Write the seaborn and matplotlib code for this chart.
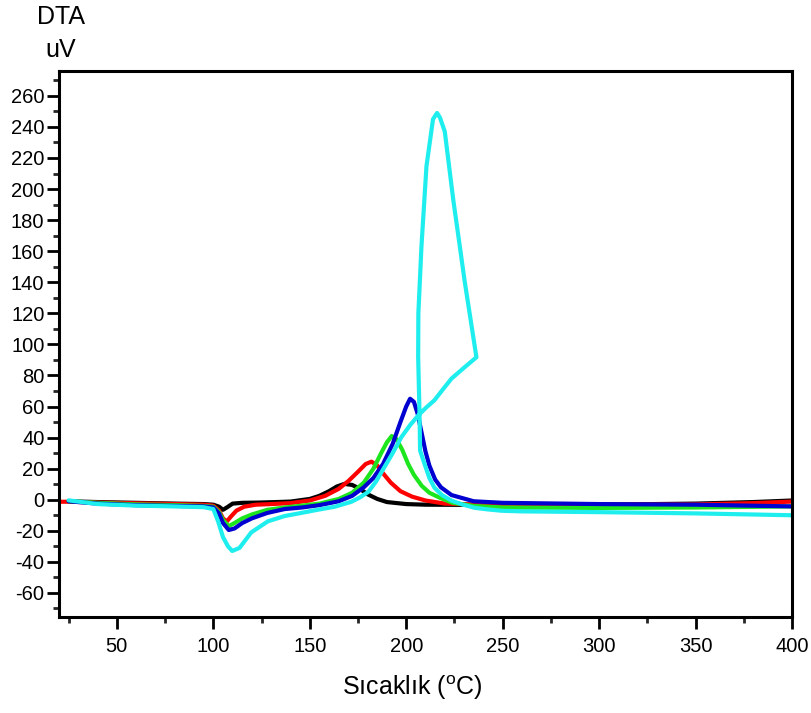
import numpy as np
import pandas as pd
import matplotlib
matplotlib.use("Agg")
import matplotlib.pyplot as plt
import seaborn as sns

# ---- data ----
black_x = [25, 40, 60, 80, 95, 100, 103, 105, 107, 110, 115, 125, 140, 150, 155, 160, 164, 168, 172, 176, 180, 185, 190, 200, 210, 230, 250, 300, 350, 380, 400]
black_y = [-1.0, -1.5, -2.0, -2.5, -2.8, -3.2, -4.5, -6.5, -5.0, -2.5, -2.0, -1.8, -1.2, 0.5, 2.5, 5.5, 8.5, 10.2, 9.5, 7.0, 3.5, 0.5, -1.5, -2.8, -3.2, -3.3, -3.3, -3.2, -2.5, -1.5, -0.5]

red_x = [20, 25, 40, 60, 80, 95, 100, 103, 105, 107, 109, 112, 116, 122, 130, 140, 150, 158, 165, 170, 175, 179, 182, 185, 188, 192, 197, 203, 210, 220, 235, 250, 300, 350, 380, 400]
red_y = [-1.3, -1.3, -1.8, -2.3, -2.8, -3.2, -3.8, -7.0, -12.0, -14.0, -11.0, -7.0, -4.5, -3.2, -2.8, -2.2, -0.5, 2.5, 7.0, 12.0, 18.0, 23.0, 24.5, 22.0, 17.0, 11.0, 5.5, 2.0, -0.5, -2.5, -3.0, -3.2, -3.2, -3.0, -2.2, -1.2]

green_x = [25, 40, 60, 80, 95, 100, 103, 105, 108, 111, 115, 120, 128, 137, 146, 155, 165, 172, 178, 183, 187, 190, 192.5, 195, 198, 201, 204, 208, 212, 217, 224, 235, 250, 300, 350, 400]
green_y = [-1.0, -2.0, -3.0, -3.5, -4.0, -4.5, -8.0, -13.0, -17.0, -15.0, -12.0, -9.5, -6.5, -5.0, -3.8, -2.5, 0.5, 4.5, 11.0, 20.0, 30.0, 37.0, 41.0, 39.0, 32.0, 23.0, 16.0, 9.0, 4.5, 1.5, -2.0, -4.0, -5.0, -5.3, -5.0, -4.3]

blue_x = [25, 40, 60, 80, 95, 100, 103, 105, 108, 111, 115, 120, 128, 137, 146, 155, 165, 172, 178, 183, 188, 193, 197, 200, 202, 204, 206, 208, 210, 212, 215, 218, 223.5, 235, 250, 300, 350, 400]
blue_y = [-1.0, -2.5, -3.5, -4.0, -4.3, -5.0, -9.0, -15.0, -19.5, -18.5, -15.0, -12.0, -8.5, -6.0, -5.0, -3.5, -1.0, 2.5, 8.0, 14.0, 23.0, 36.0, 50.0, 60.0, 65.0, 63.0, 55.0, 43.0, 31.0, 22.0, 13.0, 8.0, 3.0, -1.0, -2.0, -2.8, -3.2, -4.3]

cyan_x = [25, 40, 60, 80, 95, 100, 102.5, 105, 107.6, 109.8, 113.6, 119.7, 128.3, 137, 145.6, 154.4, 163, 171.6, 176, 180.4, 184.5, 188.7, 193, 197.5, 202, 206.3, 210.5, 214.6, 219, 223.5, 230, 236.4,
          230.2, 227.8, 224.4, 220, 217.5, 216, 213.9, 210.5, 207.9, 206.3, 206.2, 206.9, 207.2, 209.5, 212, 214.6, 218.5, 223.5, 229, 235.4, 242, 249.4, 260, 300, 350, 400]
cyan_y = [-0.4, -2.8, -3.8, -4.3, -4.8, -6.0, -14.0, -24.0, -30.0, -33.0, -31.0, -21.0, -13.9, -10.5, -8.5, -6.4, -4.5, -1.3, 1.5, 5.1, 12.0, 21.0, 30.0, 40.3, 48.0, 54.4, 59.5, 64.0, 71.0, 78.0, 85.0, 91.7,
          141.5, 163.0, 193.0, 237.0, 246.0, 249.0, 245.0, 214.7, 163.0, 120.0, 91.7, 55.6, 31.6, 23.0, 14.0, 7.8, 3.0, -0.6, -3.0, -5.2, -6.2, -7.1, -7.5, -8.0, -8.8, -10.0]

series_names = ["black", "red", "green", "blue", "cyan"]
series_colors = ["#000000", "#ff0000", "#1ee61e", "#0000d0", "#1eeeee"]
series_x = [black_x, red_x, green_x, blue_x, cyan_x]
series_y = [black_y, red_y, green_y, blue_y, cyan_y]

x_ticks = [50, 100, 150, 200, 250, 300, 350, 400]
y_ticks = [-60, -40, -20, 0, 20, 40, 60, 80, 100, 120, 140, 160, 180, 200, 220, 240, 260]

frames = []
for name, xs, ys in zip(series_names, series_x, series_y):
    frames.append(pd.DataFrame({"T": xs, "DTA": ys, "series": name, "order": range(len(xs))}))
df = pd.concat(frames, ignore_index=True)

sns.set_theme(style="white")
plt.rcParams["font.family"] = ["Liberation Sans", "DejaVu Sans"]
plt.rcParams["mathtext.fontset"] = "custom"
plt.rcParams["mathtext.rm"] = "Liberation Sans"
plt.rcParams["axes.unicode_minus"] = False

fig = plt.figure(figsize=(8.11, 7.13), dpi=100)
ax = fig.add_axes([59 / 811, 1 - 617 / 713, (792 - 59) / 811, (617 - 71) / 713])

for name, color in zip(series_names, series_colors):
    sub = df[df["series"] == name]
    sns.lineplot(data=sub, x="T", y="DTA", sort=False, estimator=None, color=color,
                 linewidth=3.0, ax=ax, solid_joinstyle="round", solid_capstyle="round")

ax.set_xlim(20, 400)
ax.set_ylim(-75.5, 276)
ax.set_xticks(x_ticks)
ax.set_xticks(np.arange(25, 400, 50), minor=True)
ax.set_yticks(y_ticks)
ax.set_yticks(np.arange(-70, 280, 20), minor=True)

for s in ax.spines.values():
    s.set_linewidth(2.2)
    s.set_color("black")

ax.tick_params(axis="both", which="major", direction="out", length=8.5, width=2.0,
               labelsize=14.5, colors="black", bottom=True, left=True, top=False, right=False)
ax.tick_params(axis="both", which="minor", direction="out", length=4.5, width=2.0,
               bottom=True, left=True, top=False, right=False)
ax.tick_params(axis="x", which="major", pad=6)
ax.tick_params(axis="y", which="major", pad=2)

ax.set_xlabel("Sıcaklık ($\\mathregular{^{o}}$C)", fontsize=18, color="black")
ax.xaxis.label.set_va("center")
ax.set_ylabel("")
ax.xaxis.set_label_coords((412 - 59) / (792 - 59), -(688 - 617) / (617 - 71))

fig.text(61 / 811, 1 - 17 / 713, "DTA", ha="center", va="center", fontsize=18, color="black")
fig.text(61 / 811, 1 - 50 / 713, "uV", ha="center", va="center", fontsize=18, color="black")

fig.savefig("out.png", dpi=100)
